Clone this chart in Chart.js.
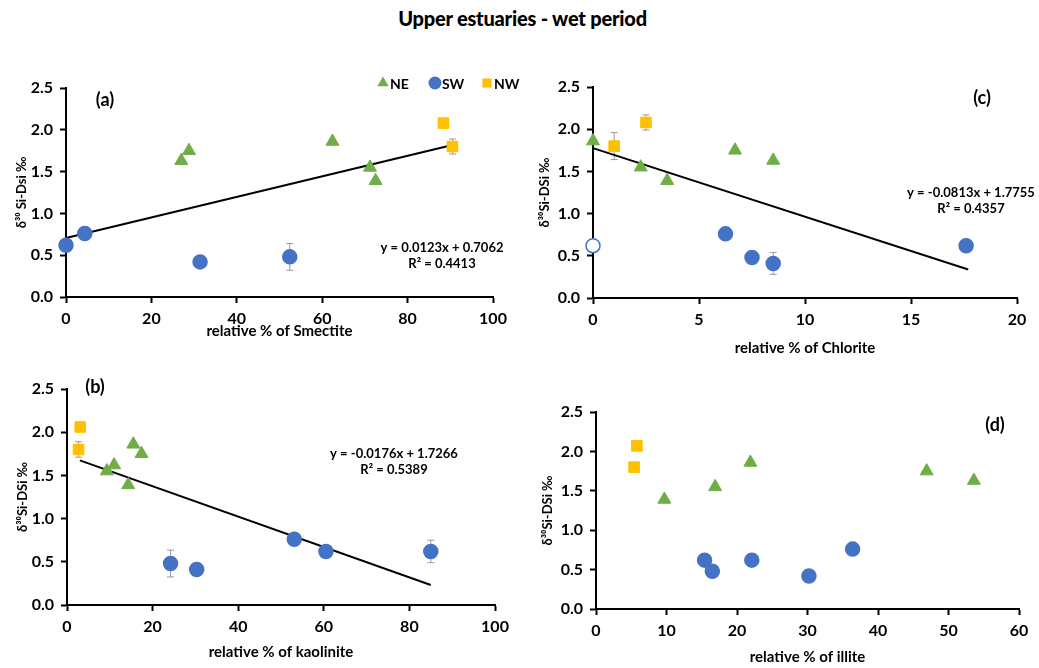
<!DOCTYPE html>
<html>
<head>
<meta charset="utf-8">
<title>Upper estuaries - wet period</title>
<script src="https://cdn.jsdelivr.net/npm/chart.js@4.4.1/dist/chart.umd.min.js"></script>
<style>
  body { margin: 0; background: #fff; }
  #wrap { position: relative; width: 1039px; height: 668px; overflow: hidden; background: #fff; }
  #wrap canvas { position: absolute; }
  #title { position: absolute; left: 3px; top: 6px; width: 1039px; text-align: center;
           font: 900 20px Lato, sans-serif; color: #000; letter-spacing: -0.2px; }
</style>
</head>
<body>
<div id="wrap">
  <div id="title">Upper estuaries - wet period</div>
  <canvas id="chartA" width="520" height="295" style="left:0;top:55px"></canvas>
  <canvas id="chartC" width="519" height="310" style="left:520px;top:55px"></canvas>
  <canvas id="chartB" width="520" height="308" style="left:0;top:360px"></canvas>
  <canvas id="chartD" width="519" height="288" style="left:520px;top:380px"></canvas>
</div>
<script>
// --- y axis (δ30Si-DSi, ‰), same on all panels ---
const yTicks = [0, 0.5, 1, 1.5, 2, 2.5];
const yTickLabels = ['0.0', '0.5', '1.0', '1.5', '2.0', '2.5'];

// --- (a) smectite ---
const smecTicks = [0, 20, 40, 60, 80, 100];
const smecTickLabels = ['0', '20', '40', '60', '80', '100'];
const smecNE_x = [27.0, 28.8, 62.4, 71.2, 72.5];
const smecNE_y = [1.63, 1.75, 1.86, 1.55, 1.39];
const smecSW_x = [0, 4.4, 31.4, 52.4];
const smecSW_y = [0.62, 0.76, 0.42, 0.48];
const smecSW_err = [0, 0, 0, 0.16];
const smecNW_x = [88.4, 90.5];
const smecNW_y = [2.08, 1.80];
const smecNW_err = [0, 0.09];
const smecTrend_x = [0, 90.5];
const smecTrend_y = [0.706, 1.819];

// --- (c) chlorite ---
const chloTicks = [0, 5, 10, 15, 20];
const chloTickLabels = ['0', '5', '10', '15', '20'];
const chloNE_x = [0, 2.25, 3.5, 6.7, 8.5];
const chloNE_y = [1.86, 1.55, 1.39, 1.75, 1.63];
const chloSW_x = [0, 6.25, 7.5, 8.5, 17.6];
const chloSW_y = [0.62, 0.76, 0.48, 0.41, 0.62];
const chloSW_err = [0, 0, 0, 0.13, 0];
const chloSW_open = [true, false, false, false, false];
const chloNW_x = [1.0, 2.5];
const chloNW_y = [1.80, 2.08];
const chloNW_err = [0.16, 0.09];
const chloTrend_x = [0, 17.7];
const chloTrend_y = [1.776, 0.337];

// --- (b) kaolinite ---
const kaolTicks = [0, 20, 40, 60, 80, 100];
const kaolTickLabels = ['0', '20', '40', '60', '80', '100'];
const kaolNE_x = [9.3, 11.0, 15.5, 17.4, 14.3];
const kaolNE_y = [1.55, 1.62, 1.86, 1.75, 1.39];
const kaolSW_x = [24.2, 30.3, 53.1, 60.5, 85.0];
const kaolSW_y = [0.48, 0.41, 0.76, 0.62, 0.62];
const kaolSW_err = [0.155, 0, 0, 0, 0.13];
const kaolNW_x = [3.1, 2.7];
const kaolNW_y = [2.06, 1.80];
const kaolNW_err = [0, 0.09];
const kaolTrend_x = [3, 85];
const kaolTrend_y = [1.674, 0.231];

// --- (d) illite ---
const illiTicks = [0, 10, 20, 30, 40, 50, 60];
const illiTickLabels = ['0', '10', '20', '30', '40', '50', '60'];
const illiNE_x = [9.7, 16.9, 21.9, 46.9, 53.6];
const illiNE_y = [1.39, 1.55, 1.86, 1.75, 1.63];
const illiSW_x = [15.4, 16.5, 22.1, 30.2, 36.4];
const illiSW_y = [0.62, 0.48, 0.62, 0.42, 0.76];
const illiNW_x = [5.8, 5.4];
const illiNW_y = [2.07, 1.80];

const GREEN = '#70AD47', BLUE = '#4472C4', GOLD = '#FFC000';

function pts(xs, ys) {
    return xs.map((x, i) => ({ x: x, y: ys[i] }));
}

function neSet(xs, ys) {
    return { label: 'NE', data: pts(xs, ys), pointStyle: 'triangle', pointRadius: 7.5,
             backgroundColor: GREEN, borderColor: GREEN, borderWidth: 1 };
}
function swSet(xs, ys, errs, fills) {
    return { label: 'SW', data: pts(xs, ys), errors: errs, pointStyle: 'circle', pointRadius: 7,
             backgroundColor: fills || BLUE, borderColor: BLUE, borderWidth: 1.5 };
}
function nwSet(xs, ys, errs) {
    return { label: 'NW', data: pts(xs, ys), errors: errs, pointStyle: 'rect', pointRadius: 7.5,
             backgroundColor: GOLD, borderColor: GOLD, borderWidth: 1 };
}
function trendSet(xs, ys) {
    return { label: 'trend', data: pts(xs, ys), showLine: true, pointRadius: 0,
             borderColor: '#000', borderWidth: 2, fill: false };
}

// grey error bars with small caps, drawn under the markers
const errorBars = {
    id: 'errorBars',
    beforeDatasetsDraw(chart) {
        const ctx = chart.ctx, xs = chart.scales.x, ys = chart.scales.y;
        ctx.save();
        ctx.strokeStyle = '#9a9a9a';
        ctx.lineWidth = 1;
        chart.data.datasets.forEach(ds => {
            if (!ds.errors) return;
            ds.data.forEach((d, i) => {
                const e = ds.errors[i];
                if (!e) return;
                const x = xs.getPixelForValue(d.x);
                const y1 = ys.getPixelForValue(d.y + e);
                const y2 = ys.getPixelForValue(d.y - e);
                ctx.beginPath();
                ctx.moveTo(x, y1); ctx.lineTo(x, y2);
                ctx.moveTo(x - 3.5, y1); ctx.lineTo(x + 3.5, y1);
                ctx.moveTo(x - 3.5, y2); ctx.lineTo(x + 3.5, y2);
                ctx.stroke();
            });
        });
        ctx.restore();
    }
};

// panel letter and trend equation
const panelText = {
    id: 'panelText',
    afterDraw(chart, args, opts) {
        const ctx = chart.ctx, a = chart.chartArea;
        ctx.save();
        ctx.fillStyle = '#000';
        ctx.textAlign = 'center';
        ctx.textBaseline = 'middle';
        ctx.font = 'bold 18px Lato';
        ctx.fillText(opts.label, a.left + opts.labelAt[0], a.top + opts.labelAt[1]);
        if (opts.eq) {
            ctx.font = 'bold 13px Lato';
            opts.eq.forEach((t, i) => ctx.fillText(t, a.left + opts.eqAt[0], a.top + opts.eqAt[1] + i * 16));
        }
        ctx.restore();
    }
};

// small legend in the corner of panel (a)
const cornerLegend = {
    id: 'cornerLegend',
    afterDraw(chart, args, opts) {
        if (!opts.show) return;
        const ctx = chart.ctx, a = chart.chartArea;
        let x = a.left + opts.at[0];
        const y = a.top + opts.at[1];
        ctx.save();
        ctx.font = 'bold 14px Lato';
        ctx.textBaseline = 'middle';
        ctx.textAlign = 'left';
        chart.data.datasets.filter(ds => ds.label !== 'trend').forEach(ds => {
            ctx.fillStyle = ds.borderColor;
            ctx.strokeStyle = ds.borderColor;
            Chart.helpers.drawPoint(ctx, { pointStyle: ds.pointStyle, radius: 6.5, rotation: 0, borderWidth: 0 }, x, y);
            ctx.fillStyle = '#000';
            ctx.fillText(ds.label, x + 7, y + 1);
            x += opts.gap;
        });
        ctx.restore();
    }
};

const tickFont = { family: 'Lato', size: 16, weight: 'bold' };

function makePanel(id, p) {
    new Chart(document.getElementById(id), {
        type: 'scatter',
        data: { datasets: p.datasets },
        plugins: [errorBars, panelText, cornerLegend],
        options: {
            responsive: false,
            animation: false,
            devicePixelRatio: 1,
            layout: { padding: p.pad },
            datasets: { scatter: { clip: false } },
            plugins: {
                legend: { display: false },
                tooltip: { enabled: false },
                panelText: p.text,
                cornerLegend: p.legend || {}
            },
            scales: {
                x: {
                    type: 'linear',
                    min: p.xTicks[0],
                    max: p.xTicks[p.xTicks.length - 1],
                    afterBuildTicks: s => { s.ticks = p.xTicks.map(v => ({ value: v })); },
                    afterFit: s => { s.height = p.xH; },
                    ticks: { callback: (v, i) => p.xLabels[i], font: tickFont, color: '#000',
                             padding: 6, maxRotation: 0, autoSkip: false },
                    grid: { drawOnChartArea: false, tickLength: 6, tickColor: '#000', tickWidth: 2 },
                    border: { color: '#000', width: 2 },
                    title: { display: true, text: p.xTitle, color: '#000',
                             font: { family: 'Lato', size: 15, weight: 'bold' },
                             padding: { top: 0, bottom: p.xTitlePad } }
                },
                y: {
                    type: 'linear',
                    min: 0,
                    max: 2.5,
                    afterBuildTicks: s => { s.ticks = yTicks.map(v => ({ value: v })); },
                    afterFit: s => { s.width = 60; },
                    ticks: { callback: (v, i) => yTickLabels[i], font: tickFont, color: '#000',
                             padding: 7, autoSkip: false },
                    grid: { drawOnChartArea: false, tickLength: 6, tickColor: '#000', tickWidth: 2 },
                    border: { color: '#000', width: 2 },
                    title: { display: true, text: p.yTitle, color: '#000',
                             font: { family: 'Lato', size: 13, weight: 'bold' },
                             padding: { top: p.yTitlePad, bottom: 0 } }
                }
            }
        }
    });
}

makePanel('chartA', {
    datasets: [
        neSet(smecNE_x, smecNE_y),
        swSet(smecSW_x, smecSW_y, smecSW_err),
        nwSet(smecNW_x, smecNW_y, smecNW_err),
        trendSet(smecTrend_x, smecTrend_y)
    ],
    xTicks: smecTicks, xLabels: smecTickLabels,
    xTitle: 'relative % of Smectite', yTitle: 'δ³⁰ Si-Dsi ‰',
    pad: { left: 6, top: 33, right: 27, bottom: 9 }, xH: 44, xTitlePad: 1, yTitlePad: 8,
    text: { label: '(a)', labelAt: [39, 12], eq: ['y = 0.0123x + 0.7062', 'R² = 0.4413'], eqAt: [376, 160] },
    legend: { show: true, at: [317, -5], gap: 52 }
});

makePanel('chartC', {
    datasets: [
        neSet(chloNE_x, chloNE_y),
        swSet(chloSW_x, chloSW_y, chloSW_err, chloSW_open.map(o => o ? '#fff' : BLUE)),
        nwSet(chloNW_x, chloNW_y, chloNW_err),
        trendSet(chloTrend_x, chloTrend_y)
    ],
    xTicks: chloTicks, xLabels: chloTickLabels,
    xTitle: 'relative % of Chlorite', yTitle: 'δ³⁰Si-DSi ‰',
    pad: { left: 13, top: 32, right: 22, bottom: 5 }, xH: 62, xTitlePad: 3, yTitlePad: 4,
    text: { label: '(c)', labelAt: [389, 11], eq: ['y = -0.0813x + 1.7755', 'R² = 0.4357'], eqAt: [378, 106] }
});

makePanel('chartB', {
    datasets: [
        neSet(kaolNE_x, kaolNE_y),
        swSet(kaolSW_x, kaolSW_y, kaolSW_err),
        nwSet(kaolNW_x, kaolNW_y, kaolNW_err),
        trendSet(kaolTrend_x, kaolTrend_y)
    ],
    xTicks: kaolTicks, xLabels: kaolTickLabels,
    xTitle: 'relative % of kaolinite', yTitle: 'δ³⁰Si-DSi ‰',
    pad: { left: 7, top: 29, right: 25, bottom: 7 }, xH: 56, xTitlePad: 0, yTitlePad: 8,
    text: { label: '(b)', labelAt: [28, -2], eq: ['y = -0.0176x + 1.7266', 'R² = 0.5389'], eqAt: [327, 65] }
});

makePanel('chartD', {
    datasets: [
        neSet(illiNE_x, illiNE_y),
        swSet(illiSW_x, illiSW_y),
        nwSet(illiNW_x, illiNW_y)
    ],
    xTicks: illiTicks, xLabels: illiTickLabels,
    xTitle: 'relative % of illite', yTitle: 'δ³⁰Si-DSi ‰',
    pad: { left: 16, top: 32, right: 20, bottom: 2 }, xH: 57, xTitlePad: 0, yTitlePad: 4,
    text: { label: '(d)', labelAt: [399, 13] }
});
</script>
</body>
</html>
